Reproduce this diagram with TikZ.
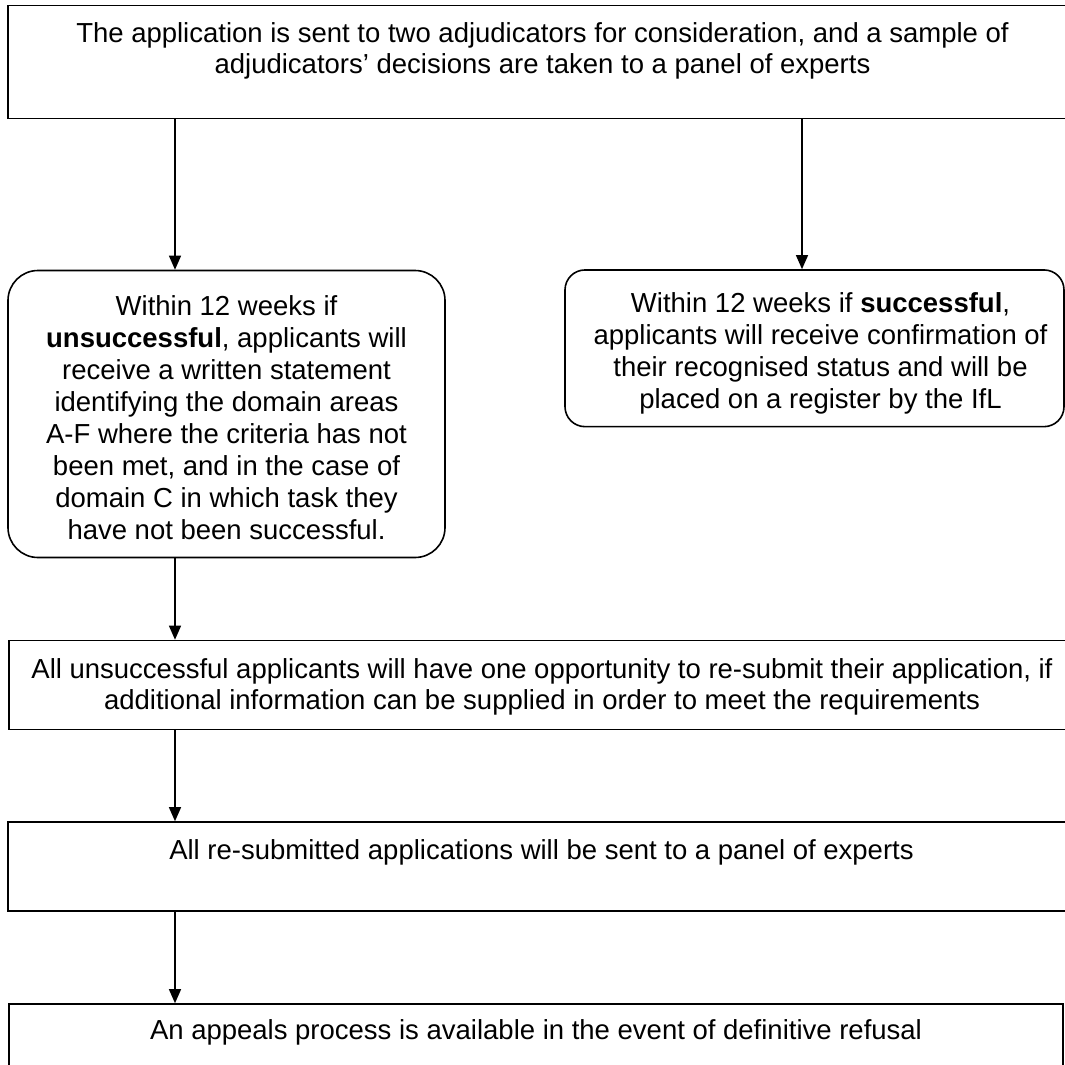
\documentclass[tikz,border=0pt]{standalone}
\usepackage{fontspec}
\setmainfont{Liberation Sans}
\usetikzlibrary{arrows.meta}
\newcommand{\tfix}[1]{\rule{0pt}{#1pt}}
\newcommand{\rs}{\hspace*{12pt}}
\begin{document}
\begin{tikzpicture}[x=1pt,y=-1pt,
  box/.style={draw=black, line width=1.6pt, inner sep=0pt, align=center,
    font=\fontsize{27.5}{31}\selectfont},
  rbox/.style={box, rounded corners=#1},
  arr/.style={line width=1.3pt, -{Triangle[length=14pt,width=12pt]}}]
\useasboundingbox (0,0) rectangle (1065,1065);
\fill[white] (0,0) rectangle (1065,1065);

\node[box, minimum width=1069pt, minimum height=113pt] (top) at (542.5,62)
  {\tfix{32}The application is sent to two adjudicators for consideration, and a sample of\\
   adjudicators’ decisions are taken to a panel of experts\\ \strut};

\node[rbox=30pt, minimum width=437pt, minimum height=287pt,
  font=\fontsize{27.5}{32}\selectfont] (lb) at (226.5,414)
  {\tfix{28}Within 12 weeks if\\
   \textbf{unsuccessful}, applicants will\\
   receive a written statement\\
   identifying the domain areas\\
   A-F where the criteria has not\\
   been met, and in the case of\\
   domain C in which task they\\
   have not been successful.};

\node[rbox=20pt, minimum width=499pt, minimum height=156.7pt,
  font=\fontsize{27.5}{31.7}\selectfont] (rb) at (814.5,348.3)
  {\rs\tfix{30}Within 12 weeks if \textbf{successful},\\
   \rs applicants will receive confirmation of\\
   \rs their recognised status and will be\\
   \rs placed on a register by the IfL};

\node[box, minimum width=1066pt, minimum height=89pt] (b3) at (542,685)
  {\tfix{24}All unsuccessful applicants will have one opportunity to re-submit their application, if\\
   additional information can be supplied in order to meet the requirements};

\node[box, minimum width=1067pt, minimum height=89pt] (b4) at (541.5,866.5)
  {\tfix{26}All re-submitted applications will be sent to a panel of experts\\ \strut};

\node[box, minimum width=1054pt, minimum height=89pt] (b5) at (536,1048.5)
  {\tfix{23}An appeals process is available in the event of definitive refusal\\ \strut};

\coordinate (ax) at (175,0);
\coordinate (bx) at (802,0);
\draw[arr] (top.south -| ax) -- (lb.north -| ax);
\draw[arr] (top.south -| bx) -- (rb.north -| bx);
\draw[arr] (lb.south -| ax) -- (b3.north -| ax);
\draw[arr] (b3.south -| ax) -- (b4.north -| ax);
\draw[arr] (b4.south -| ax) -- (b5.north -| ax);
\end{tikzpicture}
\end{document}
